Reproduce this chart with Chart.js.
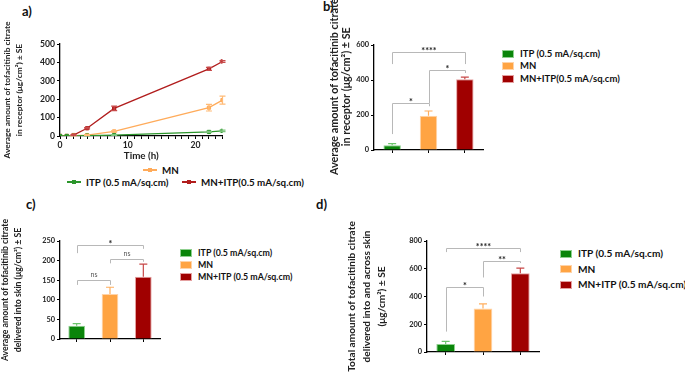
<!DOCTYPE html>
<html>
<head>
<meta charset="utf-8">
<script src="https://cdn.jsdelivr.net/npm/chart.js@4"></script>
<style>
  body { margin: 0; width: 685px; height: 373px; position: relative; background: #fff; overflow: hidden; font-family: Lato, sans-serif; }
  canvas { position: absolute; }
  .tag { position: absolute; font-weight: bold; font-size: 13px; color: #111; }
  .leg { position: absolute; font-weight: bold; color: #111; white-space: nowrap; }
  .leg div { display: flex; align-items: center; }
  .leg i { display: inline-block; width: 10px; height: 6px; margin-right: 6px; }
  .li { position: absolute; font-weight: bold; color: #111; white-space: nowrap; display: flex; align-items: center; }
  .li span { position: relative; display: inline-block; width: 14px; height: 1.5px; margin-right: 5px; }
  .li b { position: absolute; left: 5px; top: -1.5px; width: 4px; height: 4px; }
</style>
</head>
<body>
<div class="tag" style="left:22px;top:3px">a)</div>
<div class="tag" style="left:323px;top:-2px">b)</div>
<div class="tag" style="left:26px;top:196px">c)</div>
<div class="tag" style="left:316px;top:196px">d)</div>
<canvas id="cumChart" width="335" height="162" style="left:0;top:0"></canvas>
<canvas id="recChart" width="170" height="190" style="left:330px;top:0"></canvas>
<canvas id="skinChart" width="180" height="183" style="left:0;top:190px"></canvas>
<canvas id="totChart" width="220" height="183" style="left:340px;top:190px"></canvas>
<script>
// a) cumulative amount in receptor over time
const timeHours = [0, 1, 2, 4, 8, 22, 24];
const itpCum = [0, 0, 0, 2, 5, 22, 28];
const itpCumSE = [0, 0, 0, 1, 2, 3, 4];
const mnCum = [0, 0, 2, 5, 25, 154, 195];
const mnCumSE = [0, 0, 1, 2, 4, 18, 22];
const mnItpCum = [0, 0, 5, 42, 150, 365, 405];
const mnItpCumSE = [0, 0, 2, 4, 12, 8, 5];

// b) c) d) bar panels
const groupsB = ["ITP (0.5 mA/sq.cm)", "MN", "MN+ITP(0.5 mA/sq.cm)"];
const groupsCD = ["ITP (0.5 mA/sq.cm)", "MN", "MN+ITP (0.5 mA/sq.cm)"];
const receptorMean = [27, 196, 404];
const receptorSE = [10, 27, 13];
const skinMean = [34, 115, 159];
const skinSE = [5, 17, 32];
const totalMean = [58, 313, 568];
const totalSE = [19, 34, 37];

// significance brackets: [from, to, height, left leg end, right leg end, mark]
const receptorSig = [[0, 2, 558, 491, 491, "****"], [1, 2, 457, 268, 440, "*"], [0, 1, 267, 91, 250, "*"]];
const skinSig = [[0, 2, 240, 219, 230, "*"], [1, 2, 203, 193, 197, "ns"], [0, 1, 151, 138, 138, "ns"]];
const totalSig = [[0, 2, 749, 720, 720, "****"], [1, 2, 657, 537, 641, "**"], [0, 1, 467, 147, 400, "*"]];

const titleA = ["Average amount of tofacitinib citrate", "in receptor (μg/cm²) ± SE"];
const titleB = ["Average amount of tofacitinib citrate", "in receptor (μg/cm²) ± SE"];
const titleC = ["Average amount of tofacitinib citrate", "delivered into skin (μg/cm²) ± SE"];
const titleD = ["Total amount of tofacitinib citrate", "delivered into and across skin", "(μg/cm²) ± SE"];

const barFill = ["#0a850a", "#ffa443", "#a00000"];
const barEdge = ["#8fd08f", "#ffd3a8", "#e4a0a0"];
const errCol = ["#6cc46c", "#ffae5e", "#c84848"];
const lineCol = ["#2c962c", "#ffab5a", "#b11d1d"];

Chart.defaults.font.family = "Lato";
Chart.defaults.color = "#222";
Chart.defaults.animation = false;

// font size that makes a bold Lato string a given width
const measurer = document.createElement("canvas").getContext("2d");
function fit(text, width) {
  measurer.font = "bold 100px Lato";
  return Math.round(1000 * width / measurer.measureText(text).width) / 10;
}

const errorBars = {
  id: "errorBars",
  afterDatasetsDraw(chart) {
    const ctx = chart.ctx, y = chart.scales.y;
    chart.data.datasets.forEach((ds, i) => {
      if (!ds.errors) return;
      const meta = chart.getDatasetMeta(i);
      const isBar = meta.type === "bar";
      meta.data.forEach((el, j) => {
        const e = ds.errors[j];
        if (!e) return;
        const v = isBar ? ds.data[j] : ds.data[j].y;
        const top = y.getPixelForValue(v + e);
        const bot = isBar ? el.y : y.getPixelForValue(v - e);
        const w = isBar ? 4 : 3;
        ctx.save();
        ctx.strokeStyle = Array.isArray(ds.errorColor) ? ds.errorColor[j] : ds.errorColor;
        ctx.lineWidth = 1.2;
        ctx.beginPath();
        ctx.moveTo(el.x, bot); ctx.lineTo(el.x, top);
        ctx.moveTo(el.x - w, top); ctx.lineTo(el.x + w, top);
        if (!isBar) { ctx.moveTo(el.x - w, bot); ctx.lineTo(el.x + w, bot); }
        ctx.stroke();
        ctx.restore();
      });
    });
  }
};

const brackets = {
  id: "brackets",
  afterDatasetsDraw(chart, args, opts) {
    if (!opts.items) return;
    const { ctx, scales: { x, y } } = chart;
    ctx.save();
    ctx.strokeStyle = "#b8b8b8";
    ctx.lineWidth = 1;
    ctx.textAlign = "center";
    opts.items.forEach(([a, b, h, la, lb, mark]) => {
      const xa = Math.round(x.getPixelForValue(a)) + 0.5, xb = Math.round(x.getPixelForValue(b)) + 0.5;
      const yh = Math.round(y.getPixelForValue(h)) + 0.5;
      ctx.beginPath();
      ctx.moveTo(xa, y.getPixelForValue(la)); ctx.lineTo(xa, yh);
      ctx.lineTo(xb, yh); ctx.lineTo(xb, y.getPixelForValue(lb));
      ctx.stroke();
      if (mark === "ns") {
        ctx.fillStyle = "#555";
        ctx.font = "7px Lato";
        ctx.fillText(mark, (xa + xb) / 2, yh - 4);
      } else {
        ctx.fillStyle = "#222";
        ctx.font = "bold 9px Lato";
        ctx.fillText(mark, (xa + xb) / 2, yh + 1);
      }
    });
    ctx.restore();
  }
};

function axisStyle() {
  return {
    grid: { display: true, drawOnChartArea: false, drawTicks: true, tickLength: 3, color: "#000", offset: false },
    border: { color: "#000", width: 1.3 }
  };
}

// a) line chart
const sizeA = fit(titleA[0], 138);
new Chart(document.getElementById("cumChart"), {
  type: "line",
  data: {
    datasets: [
      { label: "ITP (0.5 mA/sq.cm)", data: timeHours.map((t, i) => ({ x: t, y: itpCum[i] })), errors: itpCumSE, errorColor: "#7cc47c", borderColor: lineCol[0], backgroundColor: lineCol[0] },
      { label: "MN", data: timeHours.map((t, i) => ({ x: t, y: mnCum[i] })), errors: mnCumSE, errorColor: "#ffbb77", borderColor: lineCol[1], backgroundColor: lineCol[1] },
      { label: "MN+ITP(0.5 mA/sq.cm)", data: timeHours.map((t, i) => ({ x: t, y: mnItpCum[i] })), errors: mnItpCumSE, errorColor: "#c84a4a", borderColor: lineCol[2], backgroundColor: lineCol[2] }
    ]
  },
  options: {
    responsive: false,
    layout: { padding: { left: 0, top: 44, right: 112.5, bottom: 0 } },
    elements: { line: { borderWidth: 1.3, tension: 0 }, point: { pointStyle: "rect", radius: 2.3 } },
    plugins: { legend: { display: false }, tooltip: { enabled: false } },
    scales: {
      x: {
        type: "linear", min: 0, max: 24, ...axisStyle(),
        ticks: { stepSize: 1, autoSkip: false, maxRotation: 0, padding: 1, font: { weight: "bold", size: 8.6 }, callback: v => (v % 10 === 0 ? v : "") },
        title: { display: true, text: "Time (h)", font: { weight: "bold", size: fit("Time (h)", 35) }, padding: 0 },
        afterFit: s => { s.height = 26; }
      },
      y: {
        min: 0, max: 500, ...axisStyle(),
        ticks: { stepSize: 100, padding: 2, font: { weight: "bold", size: 8.6 } },
        title: { display: true, text: titleA, font: { weight: "bold", size: sizeA, lineHeight: 12 / sizeA }, padding: { top: 1, bottom: 0 } },
        afterFit: s => { s.width = 60; }
      }
    }
  },
  plugins: [errorBars]
});

function barPanel(id, labels, values, errors, sig, yMax, yStep, title, titleSize, lineGap, titleTop, pad, yWidth, xHeight, barPct) {
  return new Chart(document.getElementById(id), {
    type: "bar",
    data: {
      labels: labels,
      datasets: [{
        data: values, errors: errors, errorColor: errCol,
        backgroundColor: barFill, borderColor: barEdge, borderWidth: 1,
        categoryPercentage: 1, barPercentage: barPct
      }]
    },
    options: {
      responsive: false,
      layout: { padding: pad },
      plugins: { legend: { display: false }, tooltip: { enabled: false }, brackets: { items: sig } },
      scales: {
        x: { ...axisStyle(), ticks: { display: false }, afterFit: s => { s.height = xHeight; } },
        y: {
          min: 0, max: yMax, ...axisStyle(),
          ticks: { stepSize: yStep, padding: 2, font: { weight: "bold", size: 7.4 } },
          title: { display: true, text: title, font: { weight: "bold", size: titleSize, lineHeight: lineGap / titleSize }, padding: { top: titleTop, bottom: 0 } },
          afterFit: s => { s.width = yWidth; }
        }
      }
    },
    plugins: [errorBars, brackets]
  });
}

// panel b's title sits a little above the plot centre: lead with en spaces
barPanel("recChart", groupsB, receptorMean, receptorSE, receptorSig, 600, 200,
  titleB.map(t => "\u2002\u2002\u2002\u2002" + t), fit(titleB[0], 176), 12, -1,
  { left: 0, top: 45, right: 17, bottom: 20 }, 44, 20, 0.48);

barPanel("skinChart", groupsCD, skinMean, skinSE, skinSig, 250, 50,
  titleC, fit(titleC[0], 143), 12.5, -1,
  { left: 0, top: 51, right: 20, bottom: 14 }, 60, 20, 0.5);

barPanel("totChart", groupsCD, totalMean, totalSE, totalSig, 800, 200,
  titleD, fit(titleD[0], 150), 15, 4.5,
  { left: 0, top: 51, right: 21, bottom: 5 }, 87, 16, 0.5);

// legends
function boxLegend(left, top, rowH, labels, size) {
  const box = document.createElement("div");
  box.className = "leg";
  box.style.cssText = `left:${left}px;top:${top}px;font-size:${size}px;line-height:${rowH}px`;
  labels.forEach((t, i) => {
    const row = document.createElement("div");
    row.innerHTML = `<i style="background:${barFill[i]};border:1px solid ${barEdge[i]}"></i>${t}`;
    box.appendChild(row);
  });
  document.body.appendChild(box);
}
boxLegend(502, 47.5, 12.5, groupsB, fit(groupsB[0], 80));
boxLegend(180, 247, 12, groupsCD, fit(groupsCD[2], 95));
boxLegend(560, 246, 15.5, groupsCD, fit(groupsCD[0], 85));

const lineLegendSize = fit("ITP (0.5 mA/sq.cm)", 83);
function lineItem(left, top, idx, text) {
  const el = document.createElement("div");
  el.className = "li";
  el.style.cssText = `left:${left}px;top:${top}px;font-size:${lineLegendSize}px`;
  el.innerHTML = `<span style="background:${lineCol[idx]}"><b style="background:${lineCol[idx]}"></b></span>${text}`;
  document.body.appendChild(el);
}
lineItem(143, 164, 1, "MN");
lineItem(67, 176, 0, "ITP (0.5 mA/sq.cm)");
lineItem(182, 176, 2, "MN+ITP(0.5 mA/sq.cm)");
</script>
</body>
</html>
